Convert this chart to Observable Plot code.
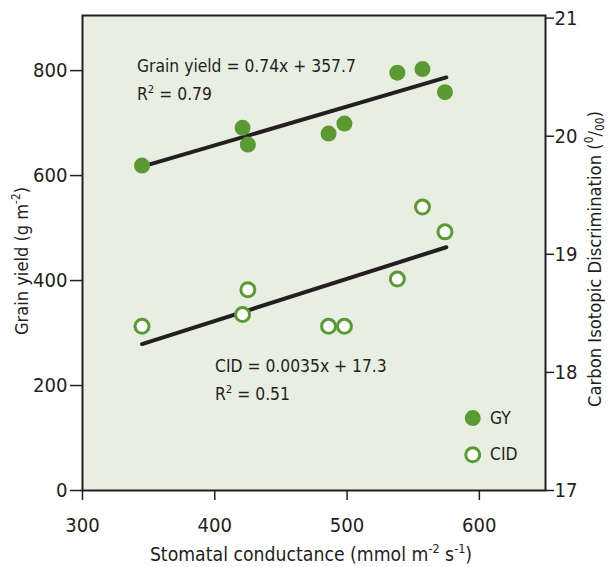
<!DOCTYPE html>
<html><head><meta charset="utf-8">
<script src="https://cdn.jsdelivr.net/npm/d3@7"></script>
<script src="https://cdn.jsdelivr.net/npm/@observablehq/plot@0.6"></script>
<style>body{margin:0;background:#fff} #chart{width:608px;height:567px}</style>
</head><body><div id="chart"></div>
<script>
// ---- data ----
const conductance = [345, 421, 425, 486, 498, 538, 557, 574];   // mmol m-2 s-1
const grainYield  = [619, 691, 659, 680, 699, 796, 803, 759];   // g m-2 (GY, filled)
const cid         = [18.39, 18.49, 18.70, 18.39, 18.39, 18.79, 19.40, 19.19]; // ‰ (open)
const fitX   = [345, 575];
const gyFit  = [617, 787];
const cidFit = [18.24, 19.06];
const xTicks   = [300, 400, 500, 600];
const gyTicks  = [0, 200, 400, 600, 800];
const cidTicks = [17, 18, 19, 20, 21];
const legendLabels = ["GY", "CID"];
const eqGY  = ["Grain yield = 0.74x + 357.7", "0.79"];
const eqCID = ["CID = 0.0035x + 17.3", "0.51"];

// ---- font choice (narrow humanist look) ----
function available(name){
  const c = document.createElement("canvas").getContext("2d");
  const s = "abcdefghijklmnopqrstuvwxyz0123456789ABC";
  c.font = "40px monospace"; const a = c.measureText(s).width;
  c.font = `40px "${name}", monospace`; return c.measureText(s).width !== a;
}
const FONT = ["Liberation Sans Narrow", "DejaVu Sans Condensed", "Roboto"].find(available) || "Roboto";
function fitSize(str, target){
  const c = document.createElement("canvas").getContext("2d");
  c.font = `100px "${FONT}"`; return 100 * target / c.measureText(str).width;
}
const tickFS = Math.min(22, fitSize("800", 34.5));
const textFS = Math.min(22, fitSize(eqGY[0], 219));

const green = "#5b9a33", ink = "#231f20", bg = "#e8eee1";
const k = 225;                      // 17–21 ‰ shares the frame with 0–900 g m-2
const toY = c => (c - 17) * k;

const pts = conductance.map((x, i) => ({x, gy: grainYield[i], cid: cid[i]}));
const gyLine  = fitX.map((x, i) => ({x, y: gyFit[i]}));
const cidLine = fitX.map((x, i) => ({x, y: toY(cidFit[i])}));
const legendGY  = [{label: legendLabels[0], x: 595, y: 138}];
const legendCID = [{label: legendLabels[1], x: 595, y: 68}];

const plot = Plot.plot({
  width: 608, height: 567,
  marginLeft: 82, marginRight: 63, marginTop: 15, marginBottom: 77,
  x: {domain: [300, 650]},
  y: {domain: [0, 905]},
  style: {fontFamily: `"${FONT}", sans-serif`, fontSize: tickFS + "px", color: ink, background: "#fff"},
  marks: [
    Plot.frame({fill: bg, stroke: "none"}),
    Plot.line(gyLine,  {x: "x", y: "y", stroke: ink, strokeWidth: 4}),
    Plot.line(cidLine, {x: "x", y: "y", stroke: ink, strokeWidth: 4}),
    Plot.dot(pts, {x: "x", y: "gy", r: 8, fill: green, stroke: "none"}),
    Plot.dot(pts, {x: "x", y: d => toY(d.cid), r: 7, fill: "#fff", stroke: green, strokeWidth: 3}),
    Plot.dot(legendGY,  {x: "x", y: "y", r: 8, fill: green, stroke: "none"}),
    Plot.dot(legendCID, {x: "x", y: "y", r: 7, fill: "#fff", stroke: green, strokeWidth: 3}),
    Plot.axisX({ticks: xTicks, tickSize: 10, tickPadding: 17, label: null, strokeWidth: 1.5}),
    Plot.axisY({ticks: gyTicks, anchor: "left", tickSize: 12, tickPadding: 3, label: null, strokeWidth: 1.5}),
    Plot.axisY({ticks: cidTicks.map(toY), tickFormat: d => String(17 + d / k), anchor: "right",
      tickSize: 8, tickPadding: 1, label: null, strokeWidth: 1.5}),
    Plot.frame({stroke: ink, strokeWidth: 2})
  ]
});
document.getElementById("chart").appendChild(plot);

// ---- text annotations, axis titles and legend labels ----
const svg = d3.select(plot);
const sy = plot.scale("y");
const g = svg.append("g").attr("font-family", `"${FONT}", sans-serif`)
  .attr("font-size", textFS).attr("fill", ink).attr("text-anchor", "start");

// rich text: parts = [text, "n"|"sup"|"sub"]
function rich(t, parts, fs = textFS){
  t.selectAll("tspan").remove();
  t.attr("font-size", fs.toFixed(2));
  let off = 0;
  const target = {n: 0, sup: -0.42 * fs, sub: 0.18 * fs};
  parts.forEach(([s, kind]) => {
    const ts = t.append("tspan").attr("dy", (target[kind] - off).toFixed(2)).text(s);
    if (kind !== "n") ts.attr("font-size", (0.65 * fs).toFixed(2));
    off = target[kind];
  });
  return t;
}
// render a title and scale its font so its length matches the reference
function fitted(t, parts, targetLen){
  rich(t, parts, textFS);
  const len = t.node().getComputedTextLength();
  rich(t, parts, textFS * targetLen / len);
}

function eq(lines, px, py){
  g.append("text").attr("x", px).attr("y", py).text(lines[0]);
  const t = g.append("text").attr("x", px).attr("y", py + 28);
  rich(t, [["R", "n"], ["2", "sup"], [" = " + lines[1], "n"]]);
}
eq(eqGY, 137, 72);
eq(eqCID, 215, 372);

[legendGY[0], legendCID[0]].forEach(d => {
  g.append("text").attr("x", 490).attr("y", sy.apply(d.y)).attr("dy", "0.35em").text(d.label);
});

// x title
fitted(g.append("text").attr("x", 311).attr("y", 561).attr("text-anchor", "middle"),
  [["Stomatal conductance (mmol m", "n"], ["-2", "sup"], [" s", "n"], ["-1", "sup"], [")", "n"]], 322);
// left title
fitted(g.append("text").attr("transform", "translate(28,261) rotate(-90)").attr("text-anchor", "middle"),
  [["Grain yield (g m", "n"], ["-2", "sup"], [")", "n"]], 148);
// right title
fitted(g.append("text").attr("transform", "translate(601,259) rotate(-90)").attr("text-anchor", "middle"),
  [["Carbon Isotopic Discrimination (", "n"], ["0", "sup"], ["/", "n"], ["00", "sub"], [")", "n"]], 296);
</script></body></html>
